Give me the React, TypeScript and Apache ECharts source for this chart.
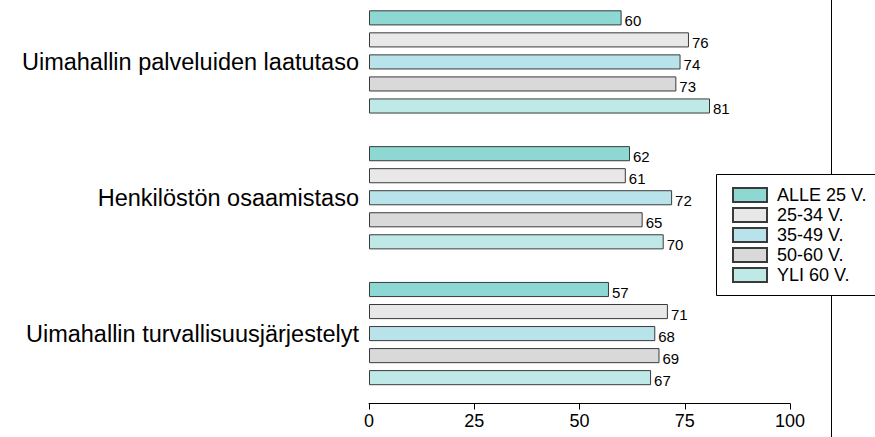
import React, { useEffect, useRef } from "react";
import * as echarts from "echarts";

const categories = [
  "Uimahallin palveluiden laatutaso",
  "Henkilöstön osaamistaso",
  "Uimahallin turvallisuusjärjestelyt",
];
const seriesNames = ["ALLE 25 V.", "25-34 V.", "35-49 V.", "50-60 V.", "YLI 60 V."];
const alle25 = [60, 62, 57];
const v25_34 = [76, 61, 71];
const v35_49 = [74, 72, 68];
const v50_60 = [73, 65, 69];
const yli60 = [81, 70, 67];
const seriesValues = [alle25, v25_34, v35_49, v50_60, yli60];
const colors = ["#8dd8d3", "#e8e8e8", "#b9e3ea", "#d9d9d9", "#bfe9e6"];
const xTicks = { min: 0, max: 100, interval: 25 };

const FONT = "'Liberation Sans', Arial, sans-serif";

export default function App() {
  const ref = useRef<HTMLDivElement>(null);
  useEffect(() => {
    if (!ref.current) return;
    const chart = echarts.init(ref.current, null, { renderer: "svg" });
    chart.setOption({
      animation: false,
      textStyle: { fontFamily: FONT },
      grid: {
        left: 369,
        right: 85,
        top: -6,
        bottom: 35.5,
        containLabel: false,
        outerBoundsMode: "none",
      },
      legend: {
        orient: "vertical",
        left: 716,
        top: 174,
        icon: "rect",
        itemWidth: 34,
        itemHeight: 14,
        itemGap: 2,
        padding: [12, 0, 12, 16],
        z: 10,
        textStyle: {
          fontSize: 18,
          color: "#000",
          fontFamily: FONT,
          padding: [0, 0, 0, 5],
        },
        data: seriesNames,
      },
      xAxis: {
        type: "value",
        min: xTicks.min,
        max: xTicks.max,
        interval: xTicks.interval,
        offset: 2,
        axisLine: { show: true, lineStyle: { color: "#000", width: 1 } },
        axisTick: { show: true, length: 6, lineStyle: { color: "#000" } },
        axisLabel: { fontSize: 18, color: "#000", margin: 8, fontFamily: FONT },
        splitLine: { show: false },
      },
      yAxis: {
        type: "category",
        data: categories,
        inverse: true,
        axisLine: { show: false },
        axisTick: { show: false },
        axisLabel: { fontSize: 23.5, color: "#000", margin: 10, fontFamily: FONT },
      },
      graphic: [
        {
          type: "line",
          z: 0,
          shape: { x1: 831.5, y1: 0, x2: 831.5, y2: 437 },
          style: { stroke: "#000", lineWidth: 1 },
        },
        {
          type: "rect",
          z: 1,
          shape: { x: 716.5, y: 174.5, width: 200, height: 121 },
          style: { fill: "#fff", stroke: "#000", lineWidth: 1 },
        },
      ],
      series: seriesNames.map((name, i) => ({
        name,
        type: "bar",
        data: seriesValues[i],
        barGap: "46%",
        barCategoryGap: "24%",
        itemStyle: { color: colors[i], borderColor: "#3a3a3a", borderWidth: 1 },
        label: {
          show: true,
          position: "right",
          distance: 3,
          offset: [0, 3],
          fontSize: 15,
          color: "#000",
          fontFamily: FONT,
        },
      })),
    });
    return () => chart.dispose();
  }, []);
  return (
    <div
      ref={ref}
      style={{ position: "fixed", left: 0, top: 0, width: 875, height: 437, background: "#fff" }}
    />
  );
}
